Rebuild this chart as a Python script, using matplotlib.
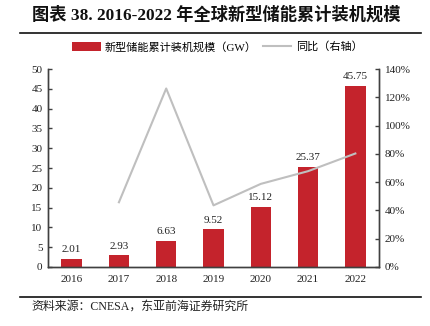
import matplotlib
matplotlib.use("Agg")
import matplotlib.pyplot as plt
from matplotlib.lines import Line2D
from matplotlib.patches import Patch

plt.rcParams['font.family'] = ['Liberation Serif', 'Noto Sans CJK SC']

years = ['2016', '2017', '2018', '2019', '2020', '2021', '2022']
capacity_gw = [2.01, 2.93, 6.63, 9.52, 15.12, 25.37, 45.75]
yoy_pct = [None, 45.8, 126.3, 43.6, 58.8, 67.8, 80.3]
left_ticks = [0, 5, 10, 15, 20, 25, 30, 35, 40, 45, 50]
right_ticks = [0, 20, 40, 60, 80, 100, 120, 140]

bar_color = '#C4232C'
line_color = '#BFBFBF'
axis_color = '#404040'

fig = plt.figure(figsize=(4.30, 3.26), dpi=100)
ax = fig.add_axes([0.1116, 0.181, 0.7698, 0.607])
ax2 = ax.twinx()

x = list(range(len(years)))
ax.bar(x, capacity_gw, width=0.43, color=bar_color, zorder=2)
for xi, v in zip(x, capacity_gw):
    ax.text(xi, v + 1.2, f'{v:.2f}', ha='center', va='bottom', fontsize=8, color='#222222')

line_x = [xi for xi, v in zip(x, yoy_pct) if v is not None]
line_y = [v for v in yoy_pct if v is not None]
ax2.plot(line_x, line_y, color=line_color, lw=1.5, zorder=3)

ax.set_xlim(-0.5, len(years) - 0.5)
ax.set_ylim(0, 50)
ax2.set_ylim(0, 140)
ax.set_xticks(x)
ax.set_xticklabels(years)
ax.set_yticks(left_ticks)
ax2.set_yticks(right_ticks)
ax2.set_yticklabels([f'{t}%' for t in right_ticks])

for a in (ax, ax2):
    a.spines['top'].set_visible(False)
    for s in ('left', 'right', 'bottom'):
        a.spines[s].set_color(axis_color)
        a.spines[s].set_linewidth(1.0)
    a.tick_params(axis='y', direction='in', length=3, width=1, color=axis_color,
                  labelsize=8, labelcolor='#222222', pad=4)
ax.tick_params(axis='x', length=0, labelsize=8, labelcolor='#222222', pad=6)

handles = [Patch(facecolor=bar_color, edgecolor='none'),
           Line2D([0], [0], color=line_color, lw=1.5)]
labels = ['新型储能累计装机规模（GW）', '同比（右轴）']
fig.legend(handles, labels, loc='center', bbox_to_anchor=(0.505, 0.856), ncol=2,
           frameon=False, fontsize=8, handlelength=2.6, handleheight=0.9,
           columnspacing=0.5, handletextpad=0.4)

fig.text(0.074, 0.954, '图表 38. 2016-2022 年全球新型储能累计装机规模', fontsize=12.4,
         fontweight='bold', ha='left', va='center', color='#111111')
fig.add_artist(Line2D([0.047, 0.979], [0.899, 0.899], color='#111111', lw=1.2))
fig.add_artist(Line2D([0.047, 0.979], [0.089, 0.089], color='#111111', lw=1.2))
fig.text(0.074, 0.058, '资料来源：CNESA，东亚前海证券研究所', fontsize=8.6,
         ha='left', va='center', color='#222222')

fig.savefig('out.png', dpi=100)
